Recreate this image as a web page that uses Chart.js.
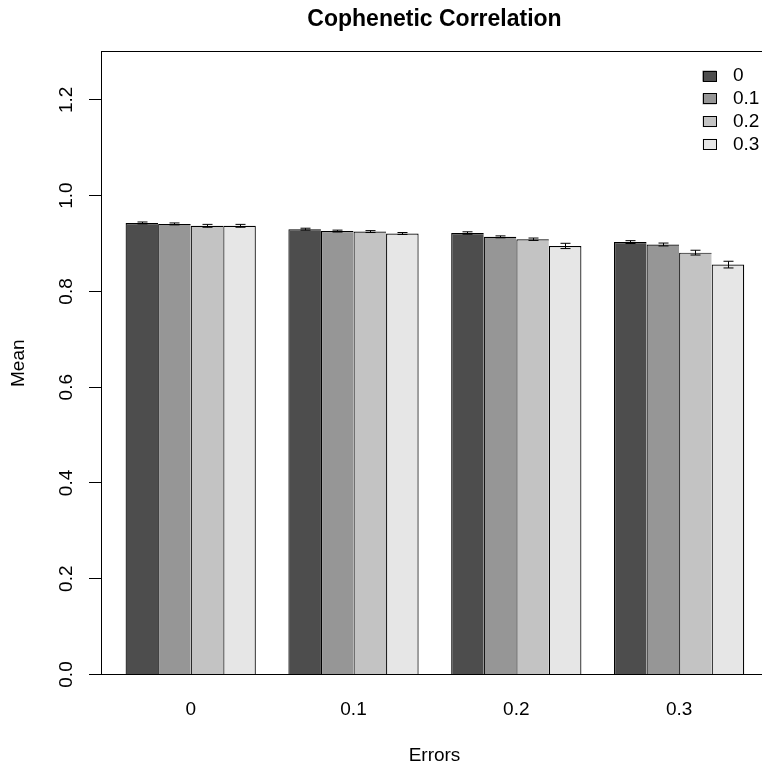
<!DOCTYPE html>
<html>
<head>
<meta charset="utf-8">
<script src="https://cdn.jsdelivr.net/npm/chart.js"></script>
<style>
  html, body { margin: 0; padding: 0; background: #fff; overflow: hidden; }
  #wrap { width: 780px; height: 767px; }
</style>
</head>
<body>
<div id="wrap"><canvas id="copheneticChart" width="780" height="767"></canvas></div>
<script>
// x categories (error level) and the series shown in the legend
var errorLevels = ['0', '0.1', '0.2', '0.3'];
var seriesLabels = ['0', '0.1', '0.2', '0.3'];

// mean cophenetic correlation per series, one value per error level
var mean0 = [0.943, 0.930, 0.922, 0.903];
var mean1 = [0.941, 0.926, 0.914, 0.898];
var mean2 = [0.937, 0.925, 0.909, 0.881];
var mean3 = [0.937, 0.921, 0.895, 0.856];

// half-width of the error bars
var err0 = [0.002, 0.002, 0.0025, 0.003];
var err1 = [0.002, 0.002, 0.002, 0.003];
var err2 = [0.003, 0.002, 0.0025, 0.005];
var err3 = [0.003, 0.002, 0.0055, 0.007];

var yTicks = [0, 0.2, 0.4, 0.6, 0.8, 1.0, 1.2];

var barColors = ['#4D4D4D', '#969696', '#C3C3C3', '#E6E6E6'];
var fontFamily = '"Liberation Sans", Arial, Helvetica, sans-serif';

Chart.defaults.font.family = fontFamily;
Chart.defaults.color = '#000';

function toPoints(values) {
    return values.map(function(v, i) { return { x: i, y: v }; });
}

var means = [mean0, mean1, mean2, mean3];
var errs = [err0, err1, err2, err3];

var datasets = means.map(function(m, i) {
    return {
        label: seriesLabels[i],
        data: toPoints(m),
        errors: errs[i],
        backgroundColor: barColors[i],
        borderColor: '#000',
        borderWidth: { top: 1.2, left: 1.2, right: i === 3 ? 1.2 : 0, bottom: 0 },
        borderSkipped: false,
        categoryPercentage: 0.8,
        barPercentage: 1.0
    };
});

// error bars on top of each bar
var errorBars = {
    id: 'errorBars',
    afterDatasetsDraw: function(chart) {
        var ctx = chart.ctx;
        var yScale = chart.scales.y;
        ctx.save();
        ctx.strokeStyle = '#000';
        ctx.lineWidth = 1;
        chart.data.datasets.forEach(function(ds, i) {
            chart.getDatasetMeta(i).data.forEach(function(bar, j) {
                var m = ds.data[j].y;
                var e = ds.errors[j];
                var yHi = yScale.getPixelForValue(m + e);
                var yLo = yScale.getPixelForValue(m - e);
                var x = Math.round(bar.x) + 0.5;
                ctx.beginPath();
                ctx.moveTo(x, yHi); ctx.lineTo(x, yLo);
                ctx.moveTo(x - 5, yHi); ctx.lineTo(x + 5, yHi);
                ctx.moveTo(x - 5, yLo); ctx.lineTo(x + 5, yLo);
                ctx.stroke();
            });
        });
        ctx.restore();
    }
};

// legend in the top right corner of the plot, R style
var boxLegend = {
    id: 'boxLegend',
    afterDraw: function(chart) {
        var ctx = chart.ctx;
        var area = chart.chartArea;
        ctx.save();
        ctx.font = '19px ' + fontFamily;
        ctx.textBaseline = 'middle';
        ctx.textAlign = 'left';
        chart.data.datasets.forEach(function(ds, i) {
            var yc = area.top + 24.2 + i * 22.7;
            var x0 = area.right - 65.5;
            ctx.fillStyle = ds.backgroundColor;
            ctx.fillRect(x0, yc - 5.5, 14, 11);
            ctx.strokeStyle = '#000';
            ctx.lineWidth = 1;
            ctx.strokeRect(Math.round(x0) + 0.5, Math.round(yc - 5.5) + 0.5, 13, 10);
            ctx.fillStyle = '#000';
            ctx.fillText(ds.label, x0 + 30.5, yc);
        });
        ctx.restore();
    }
};

var ctx = document.getElementById('copheneticChart').getContext('2d');
var copheneticChart = new Chart(ctx, {
    type: 'bar',
    data: { datasets: datasets },
    plugins: [errorBars, boxLegend],
    options: {
        responsive: false,
        animation: false,
        devicePixelRatio: 1,
        layout: { padding: { left: 0, right: 12, top: 0, bottom: 0 } },
        plugins: {
            legend: { display: false },
            tooltip: { enabled: false },
            title: {
                display: true,
                text: 'Cophenetic Correlation',
                fullSize: false,
                color: '#000',
                font: { size: 23, weight: 'bold' },
                padding: { top: 6, bottom: 0 }
            }
        },
        scales: {
            x: {
                type: 'linear',
                position: 'bottom',
                min: -0.551,
                max: 3.546,
                offset: false,
                afterBuildTicks: function(scale) {
                    scale.ticks = errorLevels.map(function(c, i) { return { value: i }; });
                },
                afterFit: function(scale) { scale.height = 92.5; },
                ticks: {
                    padding: 24,
                    font: { size: 19 },
                    maxRotation: 0,
                    autoSkip: false,
                    callback: function(value) { return errorLevels[value]; }
                },
                grid: { display: false, drawTicks: false },
                border: { display: true, color: '#000', width: 1 },
                title: {
                    display: true,
                    text: 'Errors',
                    font: { size: 19 },
                    padding: { top: 0, bottom: 0 }
                }
            },
            xTop: {
                type: 'linear',
                position: 'top',
                min: -0.551,
                max: 3.546,
                afterFit: function(scale) { scale.height = 18.4; },
                ticks: { display: false },
                grid: { display: false, drawTicks: false },
                border: { display: true, color: '#000', width: 1 }
            },
            y: {
                min: 0,
                max: 1.3,
                afterBuildTicks: function(scale) {
                    scale.ticks = yTicks.map(function(v) { return { value: v }; });
                },
                afterFit: function(scale) { scale.width = 101; },
                ticks: {
                    font: { size: 19 },
                    minRotation: 90,
                    maxRotation: 90,
                    crossAlign: 'center',
                    padding: 8.6,
                    callback: function(value) { return value.toFixed(1); }
                },
                grid: {
                    drawOnChartArea: false,
                    drawTicks: true,
                    tickLength: 12,
                    tickColor: '#000',
                    tickWidth: 1
                },
                border: { display: true, color: '#000', width: 1 },
                title: {
                    display: true,
                    text: 'Mean',
                    font: { size: 19 },
                    padding: { top: 7.6, bottom: 0 }
                }
            }
        }
    }
});
</script>
</body>
</html>
